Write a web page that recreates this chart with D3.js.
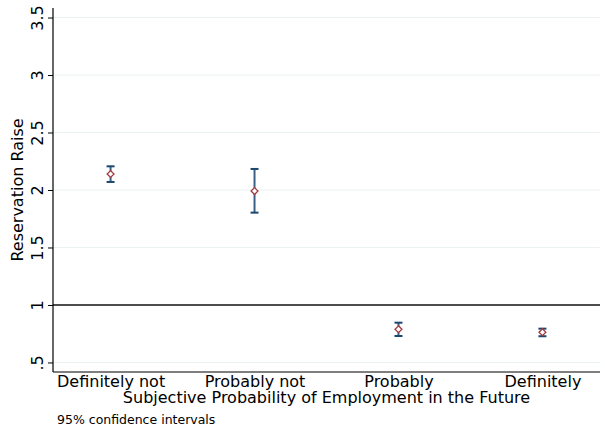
<!DOCTYPE html>
<html><head><meta charset="utf-8">
<script src="https://cdn.jsdelivr.net/npm/d3@7"></script>
<style>body{margin:0;background:#fff}svg{display:block;font-family:"DejaVu Sans",Verdana,sans-serif}</style>
</head><body>
<script>
const categories = ["Definitely not","Probably not","Probably","Definitely"];
const means = [2.139, 1.991, 0.789, 0.763];
const lower = [2.070, 1.803, 0.730, 0.728];
const upper = [2.206, 2.183, 0.846, 0.794];
const yTicks = [0.5, 1, 1.5, 2, 2.5, 3, 3.5];
const yTickLabels = [".5", "1", "1.5", "2", "2.5", "3", "3.5"];
const refLine = 1;

const FONT = "DejaVu Sans, Verdana, sans-serif";
const W = 605, H = 429;
const m = {l:53, r:5, t:8, b:57};
const svg = d3.select("body").append("svg").attr("width", W).attr("height", H);

const x = d3.scaleLinear().domain([0.6, 4.4]).range([m.l, W - m.r]);
const y = d3.scaleLinear().domain([0.417, 3.583]).range([H - m.b, m.t]);

// gridlines
svg.append("g").selectAll("line").data(yTicks).join("line")
  .attr("x1", m.l).attr("x2", W - m.r)
  .attr("y1", d => y(d)).attr("y2", d => y(d))
  .attr("stroke", "#eaf2f3").attr("stroke-width", 1);

// reference line
svg.append("line").attr("x1", m.l).attr("x2", W - m.r)
  .attr("y1", y(refLine)).attr("y2", y(refLine))
  .attr("stroke", "#4d4d4d").attr("stroke-width", 2);

// y axis
const yAxis = d3.axisLeft(y).tickValues(yTicks).tickSize(5).tickPadding(4)
  .tickFormat((d, i) => yTickLabels[i]);
const gy = svg.append("g").attr("transform", `translate(${m.l},0)`).call(yAxis)
  .attr("font-family", FONT).attr("font-size", 16);
gy.select(".domain").remove();
gy.selectAll(".tick line").attr("stroke", "#000");
gy.selectAll(".tick text").attr("fill", "#000")
  .attr("x", null).attr("dy", "0.35em")
  .attr("transform", "translate(-16,0) rotate(-90)")
  .attr("text-anchor", "middle");

svg.append("line").attr("x1", m.l).attr("x2", m.l).attr("y1", m.t).attr("y2", H - m.b)
  .attr("stroke", "#000").attr("stroke-width", 1.2);

// x axis
const xAxis = d3.axisBottom(x).tickValues([1,2,3,4]).tickSize(0).tickPadding(4)
  .tickFormat((d, i) => categories[i]);
const gx = svg.append("g").attr("transform", `translate(0,${H - m.b})`).call(xAxis)
  .attr("font-family", FONT).attr("font-size", 16);
gx.select(".domain").remove();
gx.selectAll(".tick text").attr("fill", "#000");
svg.append("line").attr("x1", m.l).attr("x2", W - m.r).attr("y1", H - m.b).attr("y2", H - m.b)
  .attr("stroke", "#000").attr("stroke-width", 1.2);

// titles
svg.append("text").attr("x", (m.l + W - m.r) / 2).attr("y", 403)
  .attr("text-anchor", "middle").attr("font-size", 16).text("Subjective Probability of Employment in the Future");
svg.append("text").attr("transform", `translate(23,${y(2)}) rotate(-90)`)
  .attr("text-anchor", "middle").attr("font-size", 16).text("Reservation Raise");
svg.append("text").attr("x", 57).attr("y", 424).attr("font-size", 12.5).text("95% confidence intervals");

// error bars
const idx = d3.range(categories.length);
const eb = svg.append("g");
eb.selectAll("line.v").data(idx).join("line").attr("class","v")
  .attr("x1", i => x(i+1)).attr("x2", i => x(i+1))
  .attr("y1", i => y(lower[i])).attr("y2", i => y(upper[i]))
  .attr("stroke", "#3b6186").attr("stroke-width", 2);
["lo","hi"].forEach(k => {
  eb.selectAll("line."+k).data(idx).join("line").attr("class", k)
    .attr("x1", i => x(i+1) - 4).attr("x2", i => x(i+1) + 4)
    .attr("y1", i => y(k === "lo" ? lower[i] : upper[i]))
    .attr("y2", i => y(k === "lo" ? lower[i] : upper[i]))
    .attr("stroke", "#1a476f").attr("stroke-width", 2);
});

// markers
svg.append("g").selectAll("path").data(idx).join("path")
  .attr("d", d3.symbol(d3.symbolDiamond2, 30))
  .attr("transform", i => `translate(${x(i+1)},${y(means[i])})`)
  .attr("fill", "#fff").attr("stroke", "#a33a3f").attr("stroke-width", 1.3);
</script>
</body></html>
